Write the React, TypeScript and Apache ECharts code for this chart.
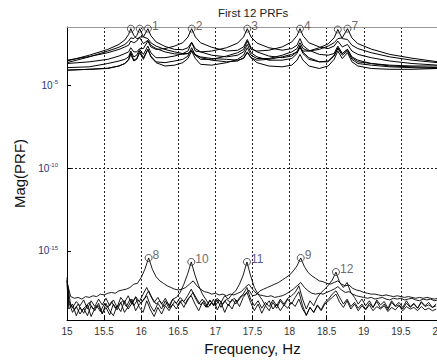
import React, { useEffect, useRef } from "react";
import * as echarts from "echarts";

// Upper group (PRF 1..7): shared frequency grid (Hz) and log10 magnitudes
const freqUpper = [15.00, 15.30, 15.55, 15.70, 15.78, 15.83, 15.86, 15.90, 15.94, 15.98, 16.03, 16.09, 16.13, 16.20, 16.32, 16.45, 16.56, 16.63, 16.68, 16.73, 16.80, 16.95, 17.15, 17.30, 17.38, 17.43, 17.48, 17.56, 17.72, 17.90, 18.03, 18.10, 18.14, 18.18, 18.26, 18.40, 18.52, 18.60, 18.65, 18.71, 18.78, 18.84, 18.92, 19.10, 19.35, 19.65, 20.00];

const prf1 = [-3.5, -3.28, -3.05, -2.85, -2.7, -2.6, -2.35, -2.45, -2.35, -2.1, -2.1, -1.6, -2.02, -2.4, -2.67, -2.85, -2.87, -2.75, -2.42, -2.8, -3.0, -3.2, -3.3, -3.2, -3.0, -2.55, -3.05, -3.3, -3.5, -3.5, -3.4, -3.1, -2.7, -3.1, -3.45, -3.6, -3.55, -3.2, -2.75, -3.1, -2.85, -3.35, -3.6, -3.7, -3.85, -3.9, -3.95];
const prf2 = [-3.7, -3.6, -3.45, -3.25, -3.1, -3.0, -2.75, -3.0, -3.0, -2.8, -2.8, -2.35, -2.7, -2.85, -2.8, -2.65, -2.45, -2.1, -1.6, -2.1, -2.45, -2.72, -2.95, -2.9, -2.7, -2.25, -2.75, -3.0, -3.25, -3.35, -3.25, -3.0, -2.6, -3.02, -3.35, -3.6, -3.6, -3.25, -2.8, -3.2, -2.95, -3.45, -3.7, -3.8, -3.9, -3.95, -4.0];
const prf3 = [-3.95, -3.9, -3.7, -3.55, -3.45, -3.3, -2.95, -3.3, -3.2, -2.85, -3.15, -2.65, -3.05, -3.35, -3.35, -3.25, -3.1, -2.95, -2.45, -2.95, -3.0, -2.95, -2.75, -2.47, -2.1, -1.6, -2.1, -2.47, -2.75, -2.9, -2.8, -2.6, -2.2, -2.62, -2.9, -3.15, -3.2, -3.1, -2.65, -3.1, -2.85, -3.3, -3.5, -3.7, -3.8, -3.85, -3.85];
const prf4 = [-4.1, -4.05, -3.98, -3.85, -3.7, -3.5, -3.15, -3.55, -3.45, -3.05, -3.45, -2.85, -3.25, -3.6, -3.65, -3.55, -3.45, -3.25, -2.75, -3.2, -3.45, -3.45, -3.25, -3.05, -2.85, -2.35, -2.85, -2.95, -2.9, -2.7, -2.4, -2.02, -1.6, -2.02, -2.45, -2.7, -2.8, -2.65, -2.35, -2.7, -2.55, -2.95, -3.15, -3.35, -3.55, -3.7, -3.8];
const prf5 = [-3.55, -3.2, -2.85, -2.55, -2.28, -1.95, -1.6, -2.0, -2.2, -2.15, -2.5, -2.3, -2.6, -2.8, -3.0, -3.12, -3.15, -3.1, -2.9, -3.15, -3.35, -3.5, -3.6, -3.55, -3.35, -3.0, -3.35, -3.65, -3.85, -3.9, -3.8, -3.5, -3.15, -3.5, -3.85, -4.0, -3.85, -3.45, -2.95, -3.4, -3.05, -3.6, -3.85, -4.0, -4.05, -4.05, -4.0];
const prf6 = [-3.65, -3.3, -2.95, -2.72, -2.55, -2.35, -2.15, -2.2, -2.02, -1.6, -2.1, -2.2, -2.45, -2.65, -2.85, -3.0, -3.1, -3.1, -2.95, -3.2, -3.3, -3.4, -3.45, -3.5, -3.4, -3.05, -3.35, -3.5, -3.45, -3.3, -3.15, -3.0, -2.75, -2.95, -2.95, -2.75, -2.52, -2.15, -1.65, -2.2, -2.25, -2.6, -2.8, -3.05, -3.3, -3.5, -3.65];
const prf7 = [-4.1, -4.05, -4.0, -3.85, -3.7, -3.45, -3.05, -3.5, -3.4, -2.95, -3.35, -2.85, -3.3, -3.65, -3.85, -3.8, -3.65, -3.4, -2.95, -3.4, -3.75, -3.8, -3.65, -3.45, -3.2, -2.75, -3.2, -3.4, -3.4, -3.2, -3.0, -2.8, -2.45, -2.8, -2.95, -2.85, -2.65, -2.45, -2.2, -2.15, -1.6, -2.16, -2.5, -2.83, -3.15, -3.38, -3.6];

// Lower group (PRF 8..12): first sample at 15 Hz, then a 0.05 Hz grid
// (PRF 10-12 sampled half a step earlier); log10 magnitudes
const freqLowStart = 15;
const freqLowStep = 0.05;
const freqLowShift = [0, 0, -0.025, -0.025, -0.025];

const prf8 = [-16.9, -17.75, -17.85, -17.8, -17.9, -17.75, -17.8, -17.7, -17.75, -17.6,
  -17.65, -17.55, -17.5, -17.55, -17.4, -17.35, -17.3, -17.2, -17.0, -16.95,
  -16.6, -16.1, -15.42, -16.1, -16.55, -16.8, -16.95, -17.1, -17.2, -17.3,
  -17.35, -17.3, -17.2, -17.0, -16.8, -17.1, -17.3, -17.45, -17.5, -17.6,
  -17.55, -17.65, -17.6, -17.7, -17.6, -17.65, -17.55, -17.45, -17.2, -17.0,
  -17.3, -17.55, -17.65, -17.7, -17.75, -17.7, -17.8, -17.75, -17.7, -17.6,
  -17.45, -17.3, -17.1, -16.9, -17.2, -17.4, -17.55, -17.6, -17.55, -17.6,
  -17.5, -17.4, -17.3, -17.15, -17.35, -17.5, -17.45, -17.6, -17.7, -17.75,
  -17.8, -17.85, -17.8, -17.9, -17.85, -17.8, -17.9, -17.95, -17.85, -17.9,
  -17.85, -17.95, -17.9, -17.85, -17.95, -18.0, -17.9, -17.95, -17.9, -18.0, -17.95];
const prf9 = [-16.75, -18.3, -18.55, -18.2, -18.6, -18.35, -18.1, -18.5, -18.3, -18.65,
  -18.2, -18.4, -18.05, -18.45, -18.25, -18.0, -18.35, -17.9, -18.3, -17.95,
  -18.15, -17.8, -17.4, -17.85, -18.2, -18.0, -18.35, -18.1, -18.4, -18.05,
  -18.3, -17.95, -18.2, -17.8, -17.5, -17.9, -18.25, -18.0, -18.4, -18.1,
  -18.3, -17.95, -18.2, -17.9, -18.1, -17.85, -18.05, -17.75, -17.6, -17.35,
  -17.7, -17.65, -17.4, -17.3, -17.2, -17.1, -17.0, -16.9, -16.75, -16.6,
  -16.45, -16.2, -15.9, -15.42, -15.95, -16.3, -16.5, -16.65, -16.8, -16.85,
  -16.95, -17.0, -16.9, -16.8, -17.0, -17.1, -17.05, -17.25, -17.35, -17.4,
  -17.5, -17.55, -17.6, -17.6, -17.65, -17.7, -17.65, -17.7, -17.75, -17.7,
  -17.75, -17.8, -17.75, -17.8, -17.85, -17.8, -17.85, -17.8, -17.85, -17.9, -17.85];
const prf10 = [-16.6, -18.1, -18.7, -18.35, -18.8, -18.45, -18.9, -18.3, -18.6, -18.15,
  -18.75, -18.4, -18.85, -18.2, -18.55, -18.1, -18.7, -18.35, -17.9, -18.6,
  -18.2, -18.0, -17.7, -18.3, -18.65, -18.15, -18.5, -18.0, -18.45, -17.9,
  -17.8, -17.5, -17.0, -16.4, -15.66, -16.45, -17.1, -17.6, -17.95, -18.3,
  -17.9, -18.55, -18.1, -18.7, -18.2, -18.5, -17.95, -18.35, -17.8, -17.5,
  -18.1, -18.6, -18.2, -18.75, -18.3, -18.6, -18.1, -18.45, -18.0, -18.3,
  -17.9, -18.2, -17.8, -17.45, -18.3, -18.9, -18.4, -18.7, -18.25, -18.55,
  -18.1, -17.9, -17.6, -17.4, -17.8, -18.2, -17.9, -18.35, -18.1, -18.45,
  -18.2, -18.5, -18.15, -18.4, -18.05, -18.45, -18.2, -18.55, -18.1, -18.35,
  -18.25, -18.5, -18.15, -18.4, -18.2, -18.45, -18.1, -18.35, -18.25, -18.4, -18.3];
const prf11 = [-17.0, -18.5, -18.2, -18.9, -18.4, -18.75, -18.25, -18.95, -18.45, -18.3,
  -18.8, -18.15, -18.6, -18.9, -18.3, -18.65, -18.0, -18.5, -18.15, -17.8,
  -18.4, -18.7, -18.0, -18.55, -18.95, -18.4, -18.8, -18.3, -18.6, -18.2,
  -18.5, -18.0, -18.4, -17.9, -17.7, -18.2, -18.6, -18.1, -18.4, -17.95,
  -18.3, -17.85, -18.1, -17.7, -17.9, -17.6, -17.4, -17.0, -16.45, -15.66,
  -16.5, -17.2, -17.6, -17.9, -18.3, -18.0, -18.5, -18.2, -18.6, -18.25,
  -18.45, -18.1, -18.35, -17.9, -18.5, -18.85, -18.4, -18.7, -18.3, -18.6,
  -18.2, -18.0, -17.8, -17.6, -18.1, -18.4, -18.0, -18.5, -18.2, -18.6,
  -18.3, -18.55, -18.25, -18.6, -18.35, -18.5, -18.3, -18.65, -18.4, -18.55,
  -18.3, -18.6, -18.35, -18.5, -18.4, -18.6, -18.35, -18.55, -18.45, -18.6, -18.5];
const prf12 = [-16.8, -18.0, -18.4, -18.05, -18.3, -17.95, -18.5, -18.0, -18.35, -17.9,
  -18.25, -17.85, -18.3, -17.95, -18.4, -17.8, -18.1, -17.7, -18.2, -17.75,
  -18.05, -17.6, -17.2, -17.7, -18.1, -17.8, -18.2, -17.85, -18.3, -17.9,
  -18.15, -17.8, -18.05, -17.7, -17.3, -17.8, -18.2, -17.9, -18.35, -18.0,
  -18.25, -17.95, -18.4, -18.0, -18.3, -17.9, -18.2, -17.8, -17.6, -17.2,
  -17.9, -18.3, -18.0, -18.45, -18.1, -18.35, -17.95, -18.3, -17.9, -18.2,
  -17.85, -17.7, -17.5, -17.1, -17.9, -18.5, -18.0, -18.3, -17.8, -17.5,
  -17.3, -17.05, -16.75, -16.27, -16.9, -17.2, -16.9, -17.5, -17.8, -18.2,
  -17.9, -18.3, -18.0, -18.4, -17.95, -18.25, -18.05, -18.45, -18.0, -18.3,
  -18.1, -18.4, -18.0, -18.35, -18.15, -18.45, -18.05, -18.3, -18.1, -18.4, -18.2];

// Peak markers
const markerFreq = [15.86, 15.98, 16.09, 16.68, 17.43, 18.14, 18.65, 18.78, 16.10, 16.675, 17.425, 18.15, 18.625];
const markerLog = [-1.6, -1.6, -1.6, -1.6, -1.6, -1.6, -1.65, -1.6, -15.42, -15.66, -15.66, -15.42, -16.27];
const markerText = ["", "", "1", "2", "3", "4", "", "7", "8", "10", "11", "9", "12"];

// Axes
const xMin = 15;
const xMax = 20;
const xStep = 0.5;
const yMinExp = -19.16;
const yMaxExp = -1.5;
const yTickExp = [-15, -10, -5];

const FONT = "'Liberation Sans', Arial, Helvetica, sans-serif";

export default function App() {
  const ref = useRef<HTMLDivElement>(null);

  useEffect(() => {
    document.body.style.margin = "0";
    const chart = echarts.init(ref.current as HTMLDivElement, null, { renderer: "svg" });
    const p10 = (e: number) => Math.pow(10, e);

    const upperSets = [prf1, prf2, prf3, prf4, prf5, prf6, prf7];
    const lowerSets = [prf8, prf9, prf10, prf11, prf12];

    const upperSeries = upperSets.map((arr, k) => ({
      type: "line",
      name: "PRF " + (k + 1),
      data: arr.map((e, i) => [freqUpper[i], p10(e)]),
      showSymbol: false,
      symbol: "none",
      lineStyle: { color: "#000", width: 1 },
      z: 2,
    }));

    const lowerSeries = lowerSets.map((arr, k) => ({
      type: "line",
      name: "PRF " + (k + 8),
      data: arr.map((e, i) => [
        i === 0 ? freqLowStart : +(freqLowStart + freqLowShift[k] + freqLowStep * i).toFixed(3),
        p10(e),
      ]),
      showSymbol: false,
      symbol: "none",
      lineStyle: { color: "#000", width: 0.9 },
      z: 2,
    }));

    const markerSeries = {
      type: "scatter",
      clip: false,
      symbol: "circle",
      symbolSize: 7,
      itemStyle: { color: "rgba(0,0,0,0)", borderColor: "#333", borderWidth: 1 },
      z: 5,
      data: markerFreq.map((f, i) => ({
        value: [f, p10(markerLog[i])],
        label: {
          show: markerText[i] !== "",
          formatter: markerText[i],
          position: "right",
          distance: 0,
          offset: [0, -3],
          fontSize: 12,
          fontFamily: FONT,
          color: markerText[i] === "11" ? "#2b2f7a" : "#444",
        },
      })),
    };

    const yTickVals = yTickExp.map((e) => p10(e));

    chart.setOption({
      animation: false,
      backgroundColor: "#fff",
      textStyle: { fontFamily: FONT },
      title: {
        text: "First 12 PRFs",
        left: 218,
        top: 7,
        padding: 0,
        textStyle: { fontSize: 11.5, fontWeight: "normal", color: "#222", fontFamily: FONT },
      },
      grid: { left: 67, right: -1, top: 27, bottom: 41, containLabel: false, outerBoundsMode: "none" },
      xAxis: [
        {
          type: "value",
          min: xMin,
          max: xMax,
          interval: xStep,
          name: "Frequency, Hz",
          nameLocation: "middle",
          nameGap: 20,
          nameTextStyle: { fontSize: 15, color: "#111", fontFamily: FONT },
          axisLine: { show: true, onZero: false, lineStyle: { color: "#000", width: 1 } },
          axisTick: { show: true, inside: true, length: 4, lineStyle: { color: "#000" } },
          axisLabel: {
            margin: 6,
            fontSize: 10,
            color: "#333",
            fontFamily: FONT,
            formatter: (v: number) => String(v),
            showMaxLabel: true,
          },
          splitLine: {
            show: true,
            showMinLine: false,
            showMaxLine: false,
            lineStyle: { type: [2, 2], color: "#222", width: 1 },
          },
        },
        {
          type: "value",
          position: "top",
          min: xMin,
          max: xMax,
          interval: xStep,
          axisLine: { show: true, onZero: false, lineStyle: { color: "#999", width: 1 } },
          axisTick: { show: false },
          axisLabel: { show: false },
          splitLine: { show: false },
        },
      ],
      yAxis: {
        type: "log",
        logBase: 10,
        min: p10(yMinExp),
        max: p10(yMaxExp),
        name: "Mag(PRF)",
        nameLocation: "middle",
        nameGap: 34,
        nameTextStyle: { fontSize: 15, color: "#111", fontFamily: FONT },
        axisLine: { show: true, onZero: false, lineStyle: { color: "#000", width: 1 } },
        axisTick: { show: true, inside: true, length: 4, customValues: yTickVals, lineStyle: { color: "#000" } },
        axisLabel: {
          customValues: yTickVals,
          margin: 9,
          formatter: (v: number) => "{b|10}{s|" + Math.round(Math.log10(v)) + "}",
          rich: {
            b: { fontSize: 10, color: "#2a3580", fontFamily: FONT },
            s: { fontSize: 6, color: "#2a3580", fontFamily: FONT, verticalAlign: "top", padding: [0, 0, 6, 0] },
          },
        },
        splitLine: {
          show: true,
          showMinLine: false,
          showMaxLine: false,
          lineStyle: { type: [2, 2], color: "#222", width: 1 },
        },
      },
      series: [...upperSeries, ...lowerSeries, markerSeries],
    });

    return () => chart.dispose();
  }, []);

  return <div ref={ref} style={{ width: 437, height: 361 }} />;
}
